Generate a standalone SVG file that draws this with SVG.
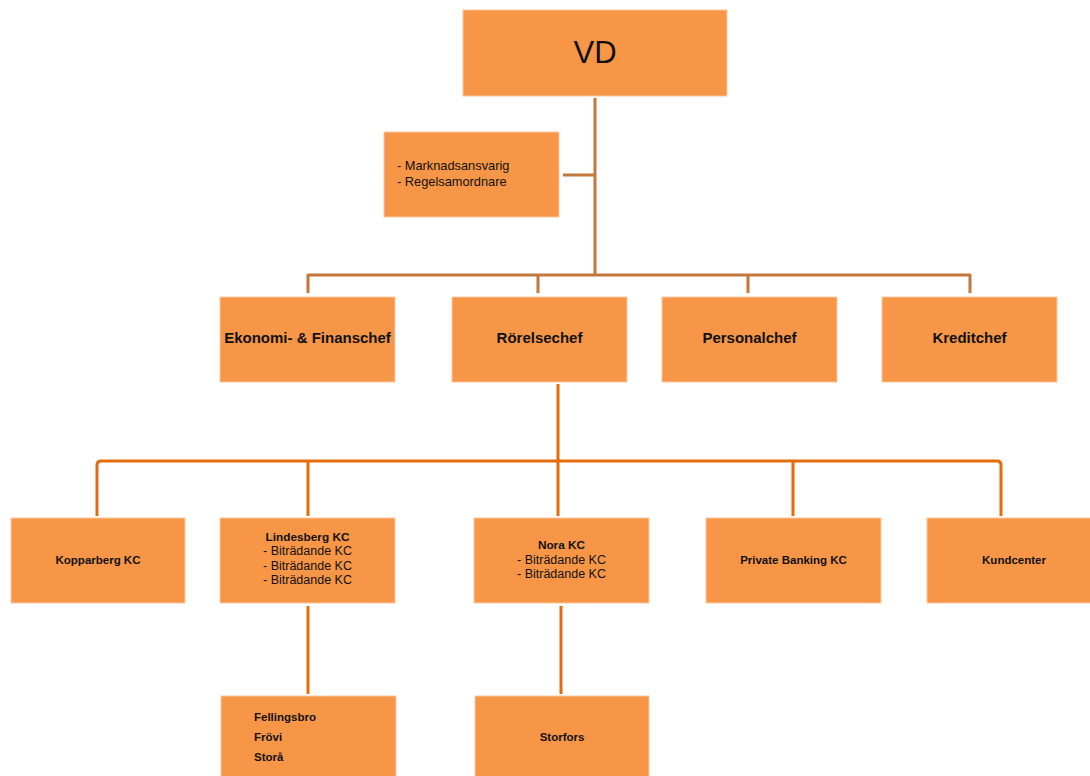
<svg xmlns="http://www.w3.org/2000/svg" width="1090" height="776" viewBox="0 0 1090 776">
<style>
.box{fill:#F79646;stroke:#FAC8A0;stroke-width:1}
.t{font-family:"Liberation Sans",Arial,sans-serif;fill:#111;}
.b{font-weight:bold;}
.c1{fill:none;stroke:#C4773A;stroke-width:3;stroke-linejoin:round}
.c2{fill:none;stroke:#E46C0A;stroke-width:3;stroke-linejoin:round}
</style>
<rect width="1090" height="776" fill="#fff"/>
<g id="connectors">
<path class="c1" d="M595 98 V275 M563 175 H595 M308 293 V275 H970 V293 M538 275 V293 M748 275 V293"/>
<path class="c2" d="M558 384 V516 M97 516 V465 Q97 461 101 461 H997 Q1001 461 1001 465 V516 M308 461 V516 M793 461 V516 M308 606 V694 M561 606 V694"/>
</g>
<g id="vd"><rect class="box" x="463" y="10" width="264" height="86"/><text class="t" x="595" y="63" font-size="31" text-anchor="middle">VD</text></g>
<g id="staff"><rect class="box" x="384" y="132" width="175" height="85"/><text class="t" x="397" y="170" font-size="12.8">- Marknadsansvarig</text><text class="t" x="397" y="186" font-size="12.8">- Regelsamordnare</text></g>
<g id="ekonomi"><rect class="box" x="220" y="297" width="175" height="85"/><text class="t b" x="307.5" y="343" font-size="15" text-anchor="middle">Ekonomi- &amp; Finanschef</text></g>
<g id="rorelse"><rect class="box" x="452" y="297" width="175" height="85"/><text class="t b" x="539.5" y="343" font-size="15" text-anchor="middle">Rörelsechef</text></g>
<g id="personal"><rect class="box" x="662" y="297" width="175" height="85"/><text class="t b" x="749.5" y="343" font-size="15" text-anchor="middle">Personalchef</text></g>
<g id="kredit"><rect class="box" x="882" y="297" width="175" height="85"/><text class="t b" x="969.5" y="343" font-size="15" text-anchor="middle">Kreditchef</text></g>
<g id="kopparberg"><rect class="box" x="11" y="518" width="174" height="85"/><text class="t b" x="98" y="564" font-size="11.5" text-anchor="middle">Kopparberg KC</text></g>
<g id="lindesberg"><rect class="box" x="220" y="518" width="175" height="85"/><text class="t b" x="307.5" y="541" font-size="11.8" text-anchor="middle">Lindesberg KC</text><text class="t" x="307.5" y="555" font-size="12.5" text-anchor="middle">- Biträdande KC</text><text class="t" x="307.5" y="570" font-size="12.5" text-anchor="middle">- Biträdande KC</text><text class="t" x="307.5" y="584" font-size="12.5" text-anchor="middle">- Biträdande KC</text></g>
<g id="nora"><rect class="box" x="474" y="518" width="175" height="85"/><text class="t b" x="561.5" y="549" font-size="11.8" text-anchor="middle">Nora KC</text><text class="t" x="561.5" y="564" font-size="12.5" text-anchor="middle">- Biträdande KC</text><text class="t" x="561.5" y="578" font-size="12.5" text-anchor="middle">- Biträdande KC</text></g>
<g id="private"><rect class="box" x="706" y="518" width="175" height="85"/><text class="t b" x="793.5" y="564" font-size="11.5" text-anchor="middle">Private Banking KC</text></g>
<g id="kundcenter"><rect class="box" x="927" y="518" width="164" height="85"/><text class="t b" x="1014" y="564" font-size="11.5" text-anchor="middle">Kundcenter</text></g>
<g id="fellingsbro"><rect class="box" x="221" y="696" width="175" height="82"/><text class="t b" x="254" y="721" font-size="11.5">Fellingsbro</text><text class="t b" x="254" y="741" font-size="11.5">Frövi</text><text class="t b" x="254" y="761" font-size="11.5">Storå</text></g>
<g id="storfors"><rect class="box" x="475" y="696" width="174" height="82"/><text class="t b" x="562" y="741" font-size="11.5" text-anchor="middle">Storfors</text></g>
</svg>
